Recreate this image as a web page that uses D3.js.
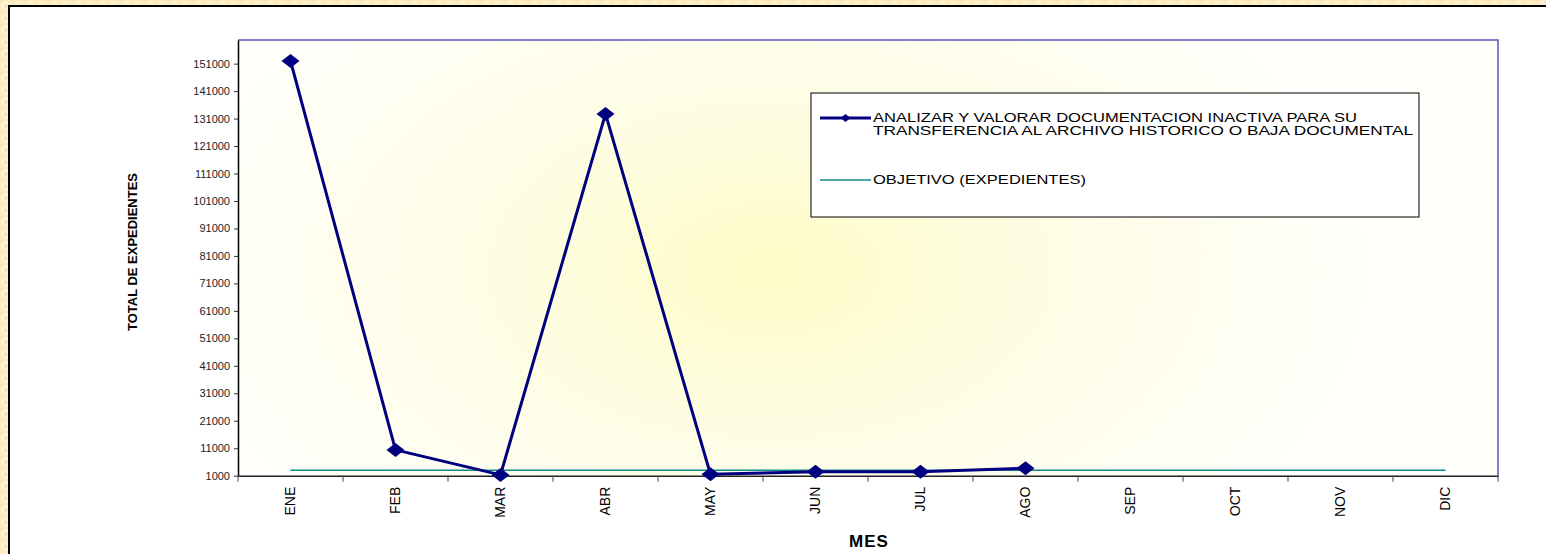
<!DOCTYPE html>
<html>
<head>
<meta charset="utf-8">
<script src="https://cdn.jsdelivr.net/npm/d3@7"></script>
<style>
  html, body { margin: 0; padding: 0; background: #fff; }
  svg { display: block; }
  text { font-family: "Liberation Sans", Arial, sans-serif; }
</style>
</head>
<body>
<svg id="chart" width="1546" height="554"></svg>
<script>
// Months on the category axis
const months = ["ENE", "FEB", "MAR", "ABR", "MAY", "JUN", "JUL", "AGO", "SEP", "OCT", "NOV", "DIC"];
// Files analysed per month (January to August reported)
const analysed = [152000, 10400, 1300, 132700, 1500, 2450, 2400, 3700];
// Monthly target
const target = [3000, 3000, 3000, 3000, 3000, 3000, 3000, 3000, 3000, 3000, 3000, 3000];
// Value-axis tick labels
const yTicks = d3.range(1000, 151001, 10000);

const seriesName = ["ANALIZAR Y VALORAR DOCUMENTACION INACTIVA PARA SU",
                    "TRANSFERENCIA AL ARCHIVO HISTORICO O BAJA DOCUMENTAL"];
const targetName = "OBJETIVO (EXPEDIENTES)";

const svg = d3.select("#chart");
const W = 1546, H = 554;
const plot = { left: 238, right: 1498, top: 40, bottom: 475.7 };

const defs = svg.append("defs");

// Parchment texture for the page frame
const pat = defs.append("pattern").attr("id", "parch")
  .attr("width", 12).attr("height", 12).attr("patternUnits", "userSpaceOnUse");
pat.append("rect").attr("width", 12).attr("height", 12).attr("fill", "#fcecbd");
pat.append("path").attr("d", "M0,6 L6,0 L12,6 L6,12 Z").attr("fill", "#fdf3d2");
pat.append("circle").attr("cx", 6).attr("cy", 6).attr("r", 1.6).attr("fill", "#f7dd9c");
pat.append("circle").attr("cx", 0).attr("cy", 0).attr("r", 1.2).attr("fill", "#f8e2a8");

// Soft yellow glow in the plot area
const grad = defs.append("radialGradient").attr("id", "glow")
  .attr("gradientUnits", "userSpaceOnUse")
  .attr("cx", 770).attr("cy", 270).attr("r", 600)
  .attr("gradientTransform", "translate(770,270) scale(1,0.6) translate(-770,-270)");
grad.append("stop").attr("offset", "0%").attr("stop-color", "#fdfbc6");
grad.append("stop").attr("offset", "50%").attr("stop-color", "#fefde6");
grad.append("stop").attr("offset", "100%").attr("stop-color", "#fffffb");

svg.append("rect").attr("width", W).attr("height", H).attr("fill", "url(#parch)");
svg.append("rect").attr("x", 9).attr("y", 6).attr("width", W).attr("height", H)
  .attr("fill", "#fff").attr("stroke", "#000").attr("stroke-width", 2);

const x = d3.scaleBand().domain(months).range([plot.left, plot.right]);
const y = d3.scaleLinear().domain([1000, 159600]).range([plot.bottom, plot.top]);
const cx = m => x(m) + x.bandwidth() / 2;

// Plot area background and frame
svg.append("rect")
  .attr("x", plot.left).attr("y", plot.top)
  .attr("width", plot.right - plot.left).attr("height", plot.bottom - plot.top)
  .attr("fill", "url(#glow)");
svg.append("path")
  .attr("d", `M${plot.left},${plot.top}H${plot.right}V${plot.bottom}`)
  .attr("fill", "none").attr("stroke", "#5a5ab8").attr("stroke-width", 1.5);

// Value axis
const yAxis = svg.append("g").attr("transform", `translate(${plot.left},0)`)
  .call(d3.axisLeft(y).tickValues(yTicks).tickFormat(d3.format("d")).tickSize(4).tickSizeOuter(0));
yAxis.select(".domain").attr("stroke", "#000").attr("stroke-width", 1.5);
yAxis.selectAll(".tick line").attr("stroke", "#333");
yAxis.selectAll(".tick text").attr("font-size", 11).attr("fill", "#222")
  .attr("font-family", "'Liberation Sans', Arial, sans-serif").attr("x", -8);

// Category axis with ticks between months
const xAxis = svg.append("g").attr("transform", `translate(0,${plot.bottom})`)
  .call(d3.axisBottom(x).tickSize(0));
xAxis.select(".domain").attr("stroke", "#222").attr("stroke-width", 1.5);
xAxis.selectAll(".tick text")
  .attr("font-size", 14).attr("fill", "#000")
  .attr("font-family", "'Liberation Sans', Arial, sans-serif")
  .attr("text-anchor", "end")
  .attr("transform", "rotate(-90)")
  .attr("x", -11).attr("y", 0).attr("dy", "0.35em");
svg.append("g").selectAll("line")
  .data(d3.range(months.length + 1))
  .join("line")
  .attr("x1", i => plot.left + i * x.bandwidth())
  .attr("x2", i => plot.left + i * x.bandwidth())
  .attr("y1", plot.bottom).attr("y2", plot.bottom + 6)
  .attr("stroke", "#444").attr("stroke-width", 1);

// Axis titles
svg.append("text")
  .attr("transform", "translate(137,252) rotate(-90)")
  .attr("text-anchor", "middle")
  .attr("font-size", 12).attr("font-weight", "bold").attr("fill", "#000")
  .attr("textLength", 158).attr("lengthAdjust", "spacingAndGlyphs")
  .text("TOTAL DE EXPEDIENTES");
svg.append("text")
  .attr("x", 869).attr("y", 547)
  .attr("text-anchor", "middle")
  .attr("font-size", 17).attr("font-weight", "bold").attr("fill", "#000")
  .attr("letter-spacing", 1)
  .text("MES");

// Target line
const targetLine = d3.line().x((d, i) => cx(months[i])).y(d => y(d));
svg.append("path").datum(target)
  .attr("d", targetLine)
  .attr("fill", "none").attr("stroke", "#138a8a").attr("stroke-width", 1.6);

// Analysed series
const seriesLine = d3.line().x((d, i) => cx(months[i])).y(d => y(d));
svg.append("path").datum(analysed)
  .attr("d", seriesLine)
  .attr("fill", "none").attr("stroke", "#000080").attr("stroke-width", 3)
  .attr("stroke-linejoin", "round");

const diamond = (w, h) => `M0,${-h / 2}L${w / 2},0L0,${h / 2}L${-w / 2},0Z`;
svg.append("g").selectAll("path")
  .data(analysed)
  .join("path")
  .attr("transform", (d, i) => `translate(${cx(months[i])},${y(d)})`)
  .attr("d", diamond(18, 14))
  .attr("fill", "#000080");

// Legend
const lg = svg.append("g");
lg.append("rect").attr("x", 811).attr("y", 93).attr("width", 608).attr("height", 124)
  .attr("fill", "#fff").attr("stroke", "#000").attr("stroke-width", 1);
lg.append("line").attr("x1", 820).attr("x2", 871).attr("y1", 118).attr("y2", 118)
  .attr("stroke", "#000080").attr("stroke-width", 3);
lg.append("path").attr("transform", "translate(845.5,118)").attr("d", diamond(10, 8))
  .attr("fill", "#000080");
lg.append("text").attr("x", 873).attr("y", 122).attr("font-size", 13).attr("fill", "#000")
  .attr("textLength", 484).attr("lengthAdjust", "spacingAndGlyphs").text(seriesName[0]);
lg.append("text").attr("x", 873).attr("y", 135).attr("font-size", 13).attr("fill", "#000")
  .attr("textLength", 540).attr("lengthAdjust", "spacingAndGlyphs").text(seriesName[1]);
lg.append("line").attr("x1", 820).attr("x2", 871).attr("y1", 180).attr("y2", 180)
  .attr("stroke", "#138a8a").attr("stroke-width", 1.3);
lg.append("text").attr("x", 873).attr("y", 184).attr("font-size", 13).attr("fill", "#000")
  .attr("textLength", 213).attr("lengthAdjust", "spacingAndGlyphs").text(targetName);
</script>
</body>
</html>
